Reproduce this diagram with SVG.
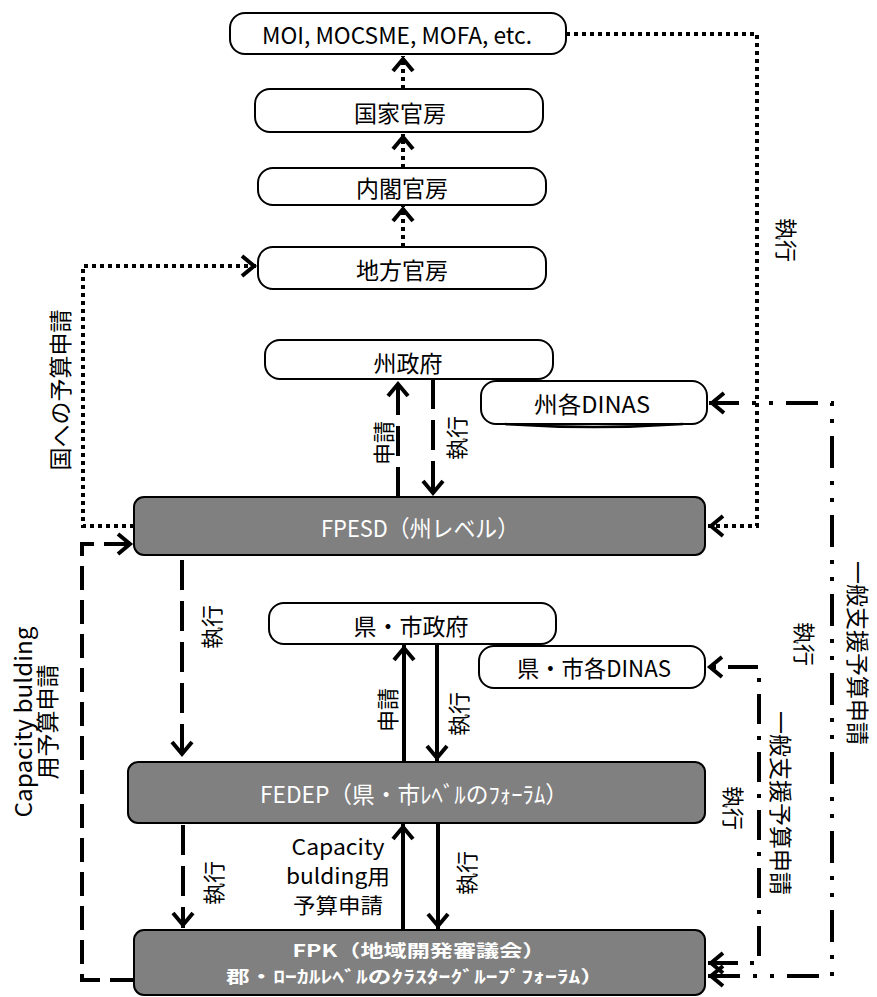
<svg xmlns="http://www.w3.org/2000/svg" width="877" height="997" viewBox="0 0 877 997">
<style>
.box{fill:#fff;stroke:#000;stroke-width:2}
.gbox{fill:#808080;stroke:#000;stroke-width:2}
.t{font-family:"Noto Sans CJK JP","Noto Sans",sans-serif;font-size:23px;fill:#000;text-anchor:middle;dominant-baseline:central}
.tw{font-family:"Noto Sans CJK JP","Noto Sans",sans-serif;font-size:23px;fill:#fff;text-anchor:middle;dominant-baseline:central}
.s22{font-size:22px}
.s21{font-size:21px}
.b{font-weight:bold;font-size:17.5px}
.c{fill:none;stroke:#000;stroke-width:4}
.dot{stroke-dasharray:4 4}
.dash{stroke-dasharray:30 11}
.dash2{stroke-dasharray:24 10}
.dd{stroke-dasharray:32 13 4 13 4 13}
.d1{stroke-dasharray:30 12 4 12}
</style>
<defs>
<marker id="arr" markerUnits="userSpaceOnUse" markerWidth="40" markerHeight="40" viewBox="-20 -20 40 40" refX="0" refY="0" orient="auto-start-reverse" overflow="visible">
<path d="M-15,-10 L-3,0 L-15,10" fill="none" stroke="#000" stroke-width="4" stroke-dasharray="none" stroke-linejoin="miter"/>
</marker>
</defs>

<g id="connectors">
<path class="c dot" d="M403,89 V56" marker-end="url(#arr)"/>
<path class="c dot" d="M403,168 V134" marker-end="url(#arr)"/>
<path class="c dot" d="M403,247 V206" marker-end="url(#arr)"/>
<path class="c dot" d="M134,526 H83 V266 H257" marker-end="url(#arr)"/>
<path class="c dot" d="M566,34 H757 V526 H708" marker-end="url(#arr)"/>
<path class="c dash" d="M398,497 V381" marker-end="url(#arr)"/>
<path class="c dash" d="M433,379 V496" marker-end="url(#arr)"/>
<path class="c dash" d="M182,560 V757" marker-end="url(#arr)"/>
<path class="c" d="M404,762 V645" marker-end="url(#arr)"/>
<path class="c" d="M437,644 V761" marker-end="url(#arr)"/>
<path class="c dash" d="M183,825 V928" marker-end="url(#arr)"/>
<path class="c" d="M403,940 V824" marker-end="url(#arr)"/>
<path class="c" d="M438,823 V929" marker-end="url(#arr)"/>
<path class="c dash2" d="M134,980 H82 V544 H133" marker-end="url(#arr)"/>
<path class="c dd" d="M708,976 H832 V403 H709" marker-start="url(#arr)" marker-end="url(#arr)"/>
<path class="c d1" d="M708,963 H759 V667 H707" marker-start="url(#arr)" marker-end="url(#arr)"/>
</g>

<g id="labels">
<text class="t" transform="translate(59,390) rotate(-90)">国への予算申請</text>
<text class="t s22" transform="translate(788,240) rotate(90)">執行</text>
<text class="t s22" transform="translate(382,443) rotate(-90)">申請</text>
<text class="t s22" transform="translate(455,438) rotate(-90)">執行</text>
<text class="t s22" transform="translate(210,627) rotate(-90)">執行</text>
<text class="t" transform="translate(34,722) rotate(-90)"><tspan x="0" y="-12" textLength="191" lengthAdjust="spacingAndGlyphs">Capacity bulding</tspan><tspan x="0" y="12">用予算申請</tspan></text>
<text class="t s22" transform="translate(386,710) rotate(-90)">申請</text>
<text class="t s22" transform="translate(457,714) rotate(-90)">執行</text>
<text class="t" transform="translate(859,653) rotate(90)">一般支援予算申請</text>
<text class="t s22" transform="translate(806,644) rotate(90)">執行</text>
<text class="t" transform="translate(782,803) rotate(90)">一般支援予算申請</text>
<text class="t s22" transform="translate(735,808) rotate(90)">執行</text>
<text class="t s22" transform="translate(212,883) rotate(-90)">執行</text>
<text class="t s22" transform="translate(465,873) rotate(-90)">執行</text>
<text class="t s21"><tspan x="338" y="846" textLength="93" lengthAdjust="spacingAndGlyphs">Capacity</tspan><tspan x="338" y="875" textLength="104" lengthAdjust="spacingAndGlyphs">bulding用</tspan><tspan x="338" y="904" textLength="90" lengthAdjust="spacingAndGlyphs">予算申請</tspan></text>
</g>

<g id="n_moi">
<rect class="box" x="230" y="13" width="336" height="41" rx="15"/>
<text class="t" x="397" y="34" textLength="270" lengthAdjust="spacingAndGlyphs">MOI, MOCSME, MOFA, etc.</text>
</g>
<g id="n_kokka">
<rect class="box" x="255" y="89" width="288" height="43" rx="15"/>
<text class="t" x="400" y="112">国家官房</text>
</g>
<g id="n_naikaku">
<rect class="box" x="258" y="168" width="288" height="37" rx="15"/>
<text class="t" x="402" y="187">内閣官房</text>
</g>
<g id="n_chiho">
<rect class="box" x="258" y="247" width="288" height="42" rx="15"/>
<text class="t" x="402" y="269">地方官房</text>
</g>
<g id="n_shu">
<rect class="box" x="265" y="340" width="288" height="39" rx="15"/>
<text class="t" x="408" y="362">州政府</text>
</g>
<g id="n_shudinas">
<rect class="box" x="481" y="381" width="226" height="43" rx="15"/>
<path d="M505,424 Q594,430 683,424" fill="none" stroke="#000" stroke-width="2.5"/>
<text class="t" x="592" y="403" textLength="116" lengthAdjust="spacingAndGlyphs">州各DINAS</text>
</g>
<g id="n_fpesd">
<rect class="gbox" x="134" y="497" width="571" height="58" rx="10"/>
<text class="tw" x="420" y="527" textLength="198" lengthAdjust="spacingAndGlyphs">FPESD（州レベル）</text>
</g>
<g id="n_ken">
<rect class="box" x="269" y="603" width="287" height="41" rx="15"/>
<text class="t" x="411" y="625">県・市政府</text>
</g>
<g id="n_kendinas">
<rect class="box" x="479" y="646" width="226" height="42" rx="15"/>
<text class="t" x="594" y="667" textLength="154" lengthAdjust="spacingAndGlyphs">県・市各DINAS</text>
</g>
<g id="n_fedep">
<rect class="gbox" x="128" y="762" width="577" height="61" rx="10"/>
<text class="tw" x="414" y="793" textLength="308" lengthAdjust="spacingAndGlyphs">FEDEP（県・市ﾚﾍﾞﾙのﾌｫｰﾗﾑ）</text>
</g>
<g id="n_fpk">
<rect class="gbox" x="134" y="930" width="571" height="65" rx="10"/>
<text class="tw b"><tspan x="419" y="949" textLength="253" lengthAdjust="spacingAndGlyphs">FPK（地域開発審議会）</tspan><tspan x="415" y="975" textLength="378" lengthAdjust="spacingAndGlyphs">郡・ﾛｰｶﾙﾚﾍﾞﾙのｸﾗｽﾀｰｸﾞﾙｰﾌﾟﾌｫｰﾗﾑ）</tspan></text>
</g>
</svg>
